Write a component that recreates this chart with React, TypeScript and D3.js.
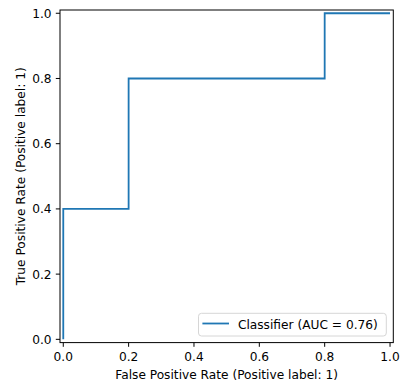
import { useEffect, useRef } from 'react';
import * as d3 from 'd3';

const fpr = [0, 0, 0.2, 0.2, 0.8, 0.8, 1];
const tpr = [0, 0.4, 0.4, 0.8, 0.8, 1, 1];
const ticks = [0, 0.2, 0.4, 0.6, 0.8, 1.0];
const seriesLabel = 'Classifier (AUC = 0.76)';

export default function App() {
  const svgRef = useRef<SVGSVGElement>(null);

  useEffect(() => {
    const svg = d3.select(svgRef.current);
    svg.selectAll('*').remove();

    const W = 413, H = 387;
    const left = 60, right = 393.3, top = 10, bottom = 342.6;
    const font = "'DejaVu Sans', sans-serif";
    const fs = 12.2;
    const tickLen = 4.2;

    const x = d3.scaleLinear().domain([-0.01, 1.01]).range([left, right]);
    const y = d3.scaleLinear().domain([-0.01, 1.01]).range([bottom, top]);

    svg.attr('width', W).attr('height', H).attr('viewBox', `0 0 ${W} ${H}`);
    svg.append('rect').attr('width', W).attr('height', H).attr('fill', '#fff');

    // curve
    const pts: [number, number][] = fpr.map((f, i) => [f, tpr[i]]);
    const line = d3.line<[number, number]>().x(d => x(d[0])).y(d => y(d[1]));
    svg.append('path').datum(pts).attr('d', line)
      .attr('fill', 'none').attr('stroke', '#1f77b4').attr('stroke-width', 1.8)
      .attr('stroke-linejoin', 'miter');

    // frame
    svg.append('rect').attr('x', left).attr('y', top)
      .attr('width', right - left).attr('height', bottom - top)
      .attr('fill', 'none').attr('stroke', '#000').attr('stroke-width', 1);

    // x ticks
    ticks.forEach(t => {
      const px = x(t);
      svg.append('line').attr('x1', px).attr('x2', px).attr('y1', bottom).attr('y2', bottom + tickLen)
        .attr('stroke', '#000').attr('stroke-width', 1);
      svg.append('text').attr('x', px).attr('y', 361)
        .attr('text-anchor', 'middle').attr('font-size', fs).attr('font-family', font)
        .attr('fill', '#000')
        .text(t.toFixed(1));
    });

    // y ticks
    ticks.forEach(t => {
      const py = y(t);
      svg.append('line').attr('x1', left).attr('x2', left - tickLen).attr('y1', py).attr('y2', py)
        .attr('stroke', '#000').attr('stroke-width', 1);
      svg.append('text').attr('x', 51.6).attr('y', py + 4.4)
        .attr('text-anchor', 'end').attr('font-size', fs).attr('font-family', font)
        .attr('fill', '#000')
        .text(t.toFixed(1));
    });

    // axis labels
    svg.append('text').attr('x', (left + right) / 2).attr('y', 379)
      .attr('text-anchor', 'middle').attr('font-size', fs).attr('font-family', font)
      .attr('fill', '#000')
      .text('False Positive Rate (Positive label: 1)');
    svg.append('text')
      .attr('transform', `translate(24.8,${(top + bottom) / 2}) rotate(-90)`)
      .attr('text-anchor', 'middle').attr('font-size', fs).attr('font-family', font)
      .attr('fill', '#000')
      .text('True Positive Rate (Positive label: 1)');

    // legend
    const lx = 198.5, ly = 313.3, lw = 187.8, lh = 22.7;
    svg.append('rect').attr('x', lx).attr('y', ly).attr('width', lw).attr('height', lh)
      .attr('rx', 3).attr('fill', '#fff').attr('fill-opacity', 0.8)
      .attr('stroke', '#d6d6d6').attr('stroke-width', 1);
    svg.append('line').attr('x1', lx + 3.9).attr('x2', lx + 30.5)
      .attr('y1', ly + 10.2).attr('y2', ly + 10.2)
      .attr('stroke', '#1f77b4').attr('stroke-width', 1.8);
    svg.append('text').attr('x', lx + 39.4).attr('y', ly + 15.2)
      .attr('font-size', fs).attr('font-family', font).attr('fill', '#000')
      .text(seriesLabel);
  }, []);

  return (
    <div style={{ position: 'fixed', left: 0, top: 0 }}>
      <svg ref={svgRef} style={{ display: 'block' }} />
    </div>
  );
}
